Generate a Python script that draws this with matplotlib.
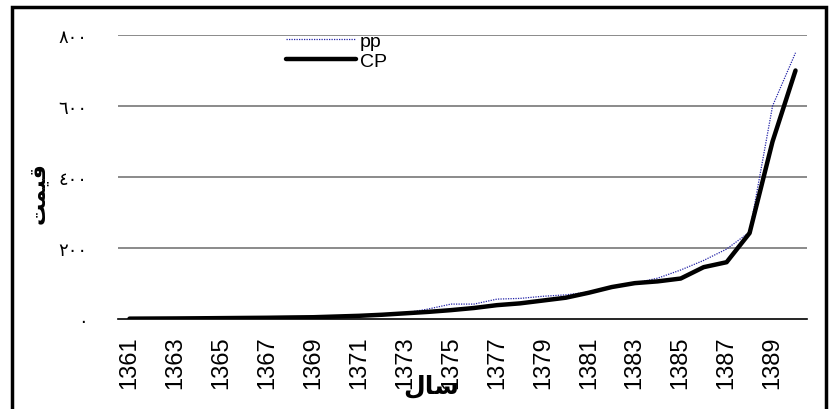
import numpy as np
import matplotlib.pyplot as plt
from matplotlib.patches import Rectangle

years = list(range(1361, 1391))
pp = [1, 1.3, 1.6, 2, 2.5, 3, 3.5, 4.3, 5, 7, 9, 12, 17, 28, 42, 42, 56, 58, 64, 68,
      76, 90, 101, 115, 138, 165, 197, 245, 600, 750]
cp = [1, 1.3, 1.6, 2, 2.5, 3, 3.5, 4.3, 5, 7, 9, 12, 16, 20, 25, 31, 39, 44, 52, 60,
      74, 90, 101, 106, 114, 146, 160, 242, 500, 700]
yticks = [0, 200, 400, 600, 800]
ytick_labels = ['٠', '٢٠٠', '٤٠٠', '٦٠٠', '٨٠٠']
# Arabic text in presentation forms (matplotlib has no shaping)
xlabel = '\uFEDD\uFE8E\uFEB3'          # سال
ylabel = '\uFE96\uFEE4\uFEF4\uFED7'    # قیمت

fig = plt.figure(figsize=(8.3, 4.1), dpi=100)
ax = fig.add_axes([118 / 830, 1 - 320 / 410, 689 / 830, 284 / 410])

x = np.arange(len(years))
ax.plot(x, pp, color='#2424a8', lw=0.9, ls=(0, (1, 1)), label='pp', zorder=3)
ax.plot(x, cp, color='black', lw=3.2, solid_capstyle='round', label='CP', zorder=4)

ax.set_xlim(-0.5, len(years) - 0.5)
ax.set_ylim(0, 800)
ax.set_yticks(yticks)
ax.set_yticklabels(ytick_labels, family='DejaVu Sans', fontsize=13)
ax.set_xticks(x[::2])
ax.set_xticklabels([str(y) for y in years[::2]], rotation=90,
                   family='Liberation Sans', fontsize=17)
ax.tick_params(axis='y', length=0, pad=22)
ax.tick_params(axis='x', length=0, pad=12)

for v in yticks[1:]:
    ax.axhline(v, color='#777777', lw=1.2, zorder=1)
for s in ['top', 'right', 'left']:
    ax.spines[s].set_visible(False)
ax.spines['bottom'].set_color('black')
ax.spines['bottom'].set_linewidth(1.2)

leg = ax.legend(loc='upper left', bbox_to_anchor=(0.23, 1.045), frameon=False,
                prop={'family': 'Liberation Sans', 'size': 14}, handlelength=3.6,
                handletextpad=0.2, labelspacing=0.15, borderpad=0)

fig.text(431 / 830, 1 - 386 / 410, xlabel, ha='center', va='center',
         family='DejaVu Sans', fontsize=18, fontweight='bold')
fig.text(38 / 830, 1 - 193 / 410, ylabel, ha='center', va='center', rotation=90,
         family='DejaVu Sans', fontsize=16, fontweight='bold')

fig.patches.append(Rectangle((12 / 830, -0.05), 814 / 830, 1 - 8 / 410 + 0.05,
                             transform=fig.transFigure, fill=False, lw=2.5,
                             edgecolor='black'))

fig.savefig('out.png', dpi=100)
